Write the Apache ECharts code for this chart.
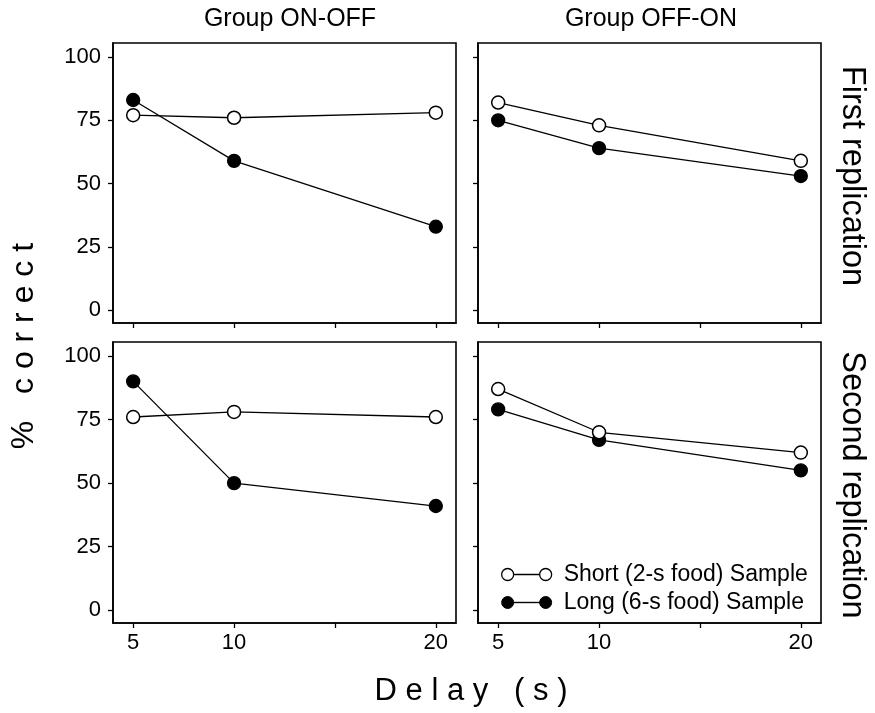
<!DOCTYPE html>
<html>
<head>
<meta charset="utf-8">
<script src="https://cdn.jsdelivr.net/npm/echarts@6/dist/echarts.min.js"></script>
<style>
html,body{margin:0;padding:0;background:#fff;}
#chart{width:875px;height:713px;}
</style>
</head>
<body>
<div id="chart"></div>
<script>
// ---- data ----
var delays = [5, 10, 20];
var xTicks = [5, 10, 15, 20];
var xTickLabels = [5, 10, 20];
var yTicks = [0, 25, 50, 75, 100];
var groupTitles = ['Group ON-OFF', 'Group OFF-ON'];
var rowTitles = ['First replication', 'Second replication'];
var seriesNames = ['Short (2-s food) Sample', 'Long (6-s food) Sample'];

var shortOnOff1 = [77, 76, 78];
var longOnOff1  = [83, 59, 33];
var shortOffOn1 = [82, 73, 59];
var longOffOn1  = [75, 64, 53];
var shortOnOff2 = [76, 78, 76];
var longOnOff2  = [90, 50, 41];
var shortOffOn2 = [87, 70, 62];
var longOffOn2  = [79, 67, 55];

var panels = [
  {short: shortOnOff1, long: longOnOff1},
  {short: shortOffOn1, long: longOffOn1},
  {short: shortOnOff2, long: longOnOff2},
  {short: shortOffOn2, long: longOffOn2}
];

// ---- layout ----
var FONT = 'Liberation Sans, Arial, Helvetica, sans-serif';
var grids = [
  {left: 113, top: 43, width: 343, height: 280},
  {left: 478, top: 43, width: 343, height: 280},
  {left: 113, top: 342, width: 343, height: 281},
  {left: 478, top: 342, width: 343, height: 281}
];

function zip(xs, ys) { return xs.map(function (x, i) { return [x, ys[i]]; }); }

var xAxes = [], yAxes = [], series = [];
grids.forEach(function (g, i) {
  var bottomRow = i >= 2, leftCol = i % 2 === 0;
  xAxes.push({
    type: 'value', gridIndex: i, min: 4, max: 21,
    axisLine: {show: true, onZero: false, lineStyle: {color: '#000', width: 1.6}},
    axisTick: {show: true, inside: false, length: 5, customValues: xTicks, lineStyle: {color: '#000', width: 1.3}},
    axisLabel: {show: bottomRow, customValues: xTickLabels, color: '#000', fontFamily: FONT, fontSize: 22, margin: 9},
    splitLine: {show: false}
  });
  yAxes.push({
    type: 'value', gridIndex: i, min: -5, max: 105.5,
    axisLine: {show: true, onZero: false, lineStyle: {color: '#000', width: 1.6}},
    axisTick: {show: true, inside: false, length: 5, customValues: yTicks, lineStyle: {color: '#000', width: 1.3}},
    axisLabel: {show: leftCol, customValues: yTicks, color: '#000', fontFamily: FONT, fontSize: 22, margin: 12},
    splitLine: {show: false}
  });
  var p = panels[i];
  series.push({
    name: seriesNames[1], type: 'line', xAxisIndex: i, yAxisIndex: i,
    data: zip(delays, p.long), symbol: 'circle', symbolSize: 13,
    lineStyle: {color: '#000', width: 1.3},
    itemStyle: {color: '#000', borderColor: '#000', borderWidth: 1.3},
    z: 2, animation: false
  });
  series.push({
    name: seriesNames[0], type: 'line', xAxisIndex: i, yAxisIndex: i,
    data: zip(delays, p.short), symbol: 'circle', symbolSize: 13,
    lineStyle: {color: '#000', width: 1.3},
    itemStyle: {color: '#fff', borderColor: '#000', borderWidth: 1.5},
    z: 3, animation: false
  });
});

var legendIcon = 'path://M0,6a6,6 0 1,0 12,0a6,6 0 1,0 -12,0zM12,5.8h26v0.4h-26zM38,6a6,6 0 1,0 12,0a6,6 0 1,0 -12,0z';

var option = {
  backgroundColor: '#fff',
  animation: false,
  grid: grids.map(function (g) {
    return Object.assign({show: true, borderColor: '#000', borderWidth: 1.6, backgroundColor: 'transparent', containLabel: false}, g);
  }),
  xAxis: xAxes,
  yAxis: yAxes,
  series: series,
  legend: {
    orient: 'vertical', left: 496, top: 558, itemGap: 5,
    itemWidth: 50, itemHeight: 12, selectedMode: false,
    textStyle: {color: '#000', fontFamily: FONT, fontSize: 23, padding: [0, 0, 0, 7]},
    data: [
      {name: seriesNames[0], icon: legendIcon, itemStyle: {color: '#fff', borderColor: '#000', borderWidth: 1.3}},
      {name: seriesNames[1], icon: legendIcon, itemStyle: {color: '#000', borderColor: '#000', borderWidth: 1}}
    ]
  },
  graphic: [
    {type: 'text', x: 290, y: 19, style: {text: groupTitles[0], font: '25px ' + FONT, fill: '#000', textAlign: 'center', textVerticalAlign: 'middle'}},
    {type: 'text', x: 651, y: 19, style: {text: groupTitles[1], font: '25px ' + FONT, fill: '#000', textAlign: 'center', textVerticalAlign: 'middle'}},
    {type: 'text', x: 852, y: 176, rotation: -Math.PI / 2, style: {text: rowTitles[0], font: '32.5px ' + FONT, fill: '#000', textAlign: 'center', textVerticalAlign: 'middle'}},
    {type: 'text', x: 852, y: 485, rotation: -Math.PI / 2, style: {text: rowTitles[1], font: '32.5px ' + FONT, fill: '#000', textAlign: 'center', textVerticalAlign: 'middle'}},
    {type: 'text', x: 24, y: 346, rotation: Math.PI / 2, style: {text: '%   c o r r e c t', font: '32px ' + FONT, fill: '#000', textAlign: 'center', textVerticalAlign: 'middle'}},
    {type: 'text', x: 471, y: 691, style: {text: 'D e l a y   ( s )', font: '31px ' + FONT, fill: '#000', textAlign: 'center', textVerticalAlign: 'middle'}}
  ]
};

var chart = echarts.init(document.getElementById('chart'), null, {renderer: 'canvas'});
chart.setOption(option);
</script>
</body>
</html>
